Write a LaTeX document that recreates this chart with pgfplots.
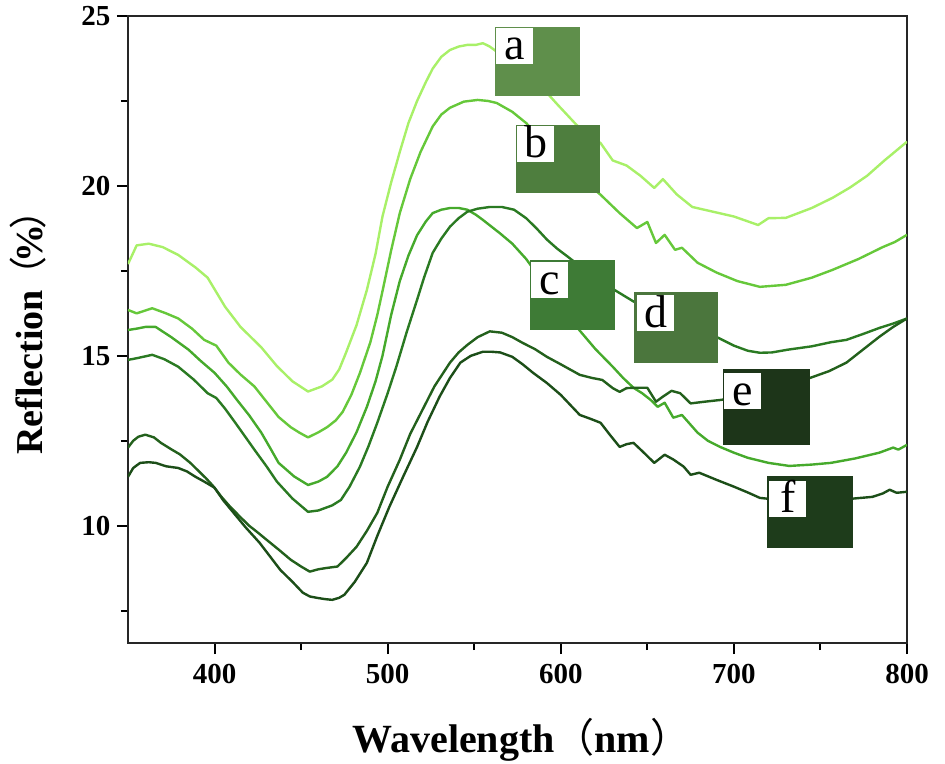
\documentclass[border=0pt]{standalone}
\usepackage{fontspec}
\setmainfont{Liberation Serif}
\newfontfamily\cjk{Noto Sans CJK SC}
\usepackage{pgfplots}
\pgfplotsset{compat=1.18}
\definecolor{ca}{HTML}{A8F068}
\definecolor{cb}{HTML}{66C83A}
\definecolor{cc}{HTML}{46AA2C}
\definecolor{cd}{HTML}{2A7A22}
\definecolor{ce}{HTML}{23601C}
\definecolor{cf}{HTML}{1C4E18}
\definecolor{ba}{HTML}{5F8F4B}
\definecolor{bb}{HTML}{4E7E3E}
\definecolor{bc}{HTML}{3E7B36}
\definecolor{bd}{HTML}{4B763D}
\definecolor{be}{HTML}{1D3519}
\definecolor{bf}{HTML}{1E3C1B}
\tikzset{lbl/.style={fill=white, inner xsep=0pt, inner ysep=0pt, minimum width=37pt,
  text height=32pt, text depth=4pt, font=\fontsize{46}{46}\selectfont, anchor=south west}}
\begin{document}
\begin{tikzpicture}
\useasboundingbox (-128pt,-120pt) rectangle (817pt,643pt);
\begin{axis}[at={(0,0)}, anchor=south west,
  scale only axis, width=779pt, height=627pt,
  xmin=350, xmax=800, ymin=6.55, ymax=25,
  tick pos=left, tick align=outside,
  xtick={400,500,600,700,800}, minor xtick={450,550,650,750},
  ytick={10,15,20,25}, minor ytick={7.5,12.5,17.5,22.5},
  major tick length=11pt, minor tick length=7pt,
  every tick/.style={line width=2pt, black},
  axis line style={line width=2.5pt, black!85},
  tick label style={font=\fontsize{29}{29}\selectfont\bfseries},
  xticklabel style={yshift=-7pt},
  yticklabel style={xshift=-3pt},
  /pgf/number format/assume math mode=true,
  xlabel={Wavelength{\cjk\mdseries（}nm{\cjk\mdseries）}},
  ylabel={Reflection\kern-0.12em{\cjk\mdseries（}\kern-0.15em\%\kern-0.15em{\cjk\mdseries）}},
  xlabel style={font=\fontsize{40}{40}\selectfont\bfseries, at={(axis description cs:0.505,-0.1754)}, anchor=base},
  ylabel style={font=\fontsize{38}{38}\selectfont\bfseries, at={(axis description cs:-0.128,0.51)}, anchor=center},
  every axis plot/.append style={line width=2.4pt, line join=round},
]
\addplot[ca] coordinates {(350,17.7)(355,18.25)(362,18.3)(370,18.2)(379,17.97)(389,17.6)(396,17.3)(406,16.45)(415,15.85)(427,15.25)(436,14.7)(445,14.25)(454,13.95)(462,14.1)(468,14.3)(472,14.6)(476,15.1)(482,15.9)(488,16.94)(493,18.0)(497,19.1)(502,20.1)(507,21.0)(512,21.85)(517,22.5)(522,23.05)(526,23.45)(531,23.8)(536,24.0)(541,24.1)(546,24.15)(551,24.15)(555,24.2)(559,24.1)(563,23.95)(570,23.75)(580,23.35)(590,22.85)(598,22.4)(609,21.8)(616,21.5)(623,21.26)(630,20.75)(638,20.6)(646,20.3)(654,19.94)(659,20.2)(667,19.75)(676,19.38)(688,19.24)(700,19.1)(714,18.85)(720,19.05)(730,19.06)(745,19.35)(757,19.65)(767,19.95)(777,20.3)(787,20.75)(800,21.3)};
\addplot[cb] coordinates {(350,16.35)(355,16.25)(364,16.4)(372,16.25)(379,16.1)(387,15.8)(394,15.47)(401,15.3)(408,14.8)(415,14.45)(423,14.1)(430,13.65)(437,13.2)(444,12.9)(449,12.74)(454,12.6)(460,12.75)(465,12.9)(470,13.1)(474,13.35)(479,13.85)(484,14.5)(490,15.4)(494,16.2)(497,16.9)(502,18.1)(507,19.2)(513,20.2)(519,21.0)(526,21.75)(531,22.1)(536,22.3)(544,22.48)(552,22.53)(558,22.5)(563,22.44)(572,22.18)(580,21.85)(590,21.3)(600,20.8)(611,20.25)(623,19.74)(634,19.2)(644,18.76)(650,18.94)(655,18.32)(660,18.56)(666,18.12)(670,18.18)(679,17.74)(690,17.45)(702,17.2)(715,17.03)(730,17.09)(745,17.3)(757,17.53)(772,17.85)(786,18.2)(793,18.35)(800,18.56)};
\addplot[cc] coordinates {(350,15.76)(355,15.8)(360,15.85)(366,15.85)(375,15.55)(385,15.18)(392,14.85)(400,14.5)(407,14.1)(413,13.7)(420,13.25)(427,12.74)(432,12.3)(437,11.85)(446,11.45)(454,11.2)(460,11.3)(465,11.44)(471,11.75)(476,12.15)(482,12.75)(488,13.5)(493,14.25)(497,15.0)(502,16.2)(507,17.2)(512,17.95)(517,18.55)(522,18.95)(526,19.2)(531,19.3)(536,19.35)(541,19.35)(546,19.3)(551,19.15)(555,19.0)(560,18.8)(565,18.6)(572,18.3)(580,17.85)(590,17.15)(600,16.45)(611,15.74)(620,15.2)(630,14.68)(636,14.35)(642,14.06)(647,13.9)(652,13.7)(656,13.5)(660,13.62)(665,13.18)(670,13.26)(679,12.74)(685,12.5)(692,12.32)(700,12.15)(708,12.0)(720,11.85)(732,11.76)(745,11.8)(756,11.85)(770,11.98)(784,12.15)(792,12.3)(795,12.24)(800,12.38)};
\addplot[cd] coordinates {(350,14.88)(356,14.94)(364,15.03)(371,14.9)(379,14.68)(388,14.3)(396,13.9)(401,13.76)(406,13.45)(412,13.03)(418,12.6)(423,12.24)(430,11.75)(436,11.3)(445,10.8)(454,10.41)(460,10.45)(468,10.6)(473,10.76)(478,11.15)(484,11.74)(489,12.35)(494,13.03)(500,13.9)(505,14.68)(511,15.7)(517,16.65)(521,17.3)(526,18.03)(531,18.45)(536,18.8)(541,19.05)(546,19.24)(552,19.33)(559,19.38)(566,19.38)(573,19.3)(580,19.05)(586,18.75)(592,18.42)(598,18.15)(605,17.88)(612,17.6)(620,17.3)(631,16.94)(642,16.6)(655,16.25)(667,15.95)(680,15.75)(691,15.53)(700,15.3)(708,15.15)(715,15.09)(722,15.1)(731,15.18)(745,15.28)(756,15.4)(765,15.47)(775,15.65)(784,15.82)(792,15.95)(800,16.1)};
\addplot[ce] coordinates {(350,12.3)(353,12.5)(356,12.62)(360,12.68)(365,12.6)(369,12.44)(375,12.25)(380,12.1)(386,11.85)(391,11.6)(395,11.4)(399,11.18)(404,10.85)(409,10.56)(415,10.25)(420,10.0)(425,9.8)(430,9.59)(437,9.3)(444,9.0)(450,8.8)(455,8.65)(460,8.72)(465,8.76)(471,8.8)(476,9.05)(482,9.38)(488,9.85)(494,10.38)(500,11.15)(507,11.94)(513,12.7)(520,13.4)(527,14.1)(536,14.8)(541,15.1)(546,15.32)(552,15.55)(559,15.72)(566,15.68)(572,15.55)(578,15.38)(585,15.2)(592,14.97)(600,14.75)(611,14.44)(618,14.35)(624,14.29)(630,14.05)(634,13.94)(638,14.05)(642,14.06)(650,14.06)(655,13.65)(659,13.8)(664,13.97)(669,13.9)(675,13.6)(683,13.65)(692,13.7)(705,13.8)(718,13.95)(730,14.1)(744,14.35)(755,14.55)(765,14.8)(775,15.2)(784,15.56)(792,15.85)(800,16.1)};
\addplot[cf] coordinates {(350,11.44)(353,11.7)(357,11.85)(362,11.87)(366,11.85)(372,11.75)(379,11.7)(384,11.6)(389,11.44)(394,11.3)(400,11.12)(405,10.75)(411,10.38)(418,9.95)(426,9.5)(432,9.1)(438,8.7)(445,8.35)(451,8.03)(455,7.92)(459,7.88)(464,7.84)(468,7.82)(472,7.88)(475,7.97)(481,8.35)(488,8.91)(494,9.7)(501,10.56)(509,11.45)(517,12.32)(523,13.05)(530,13.8)(536,14.35)(542,14.8)(548,15.0)(555,15.12)(560,15.12)(565,15.1)(572,14.97)(578,14.75)(584,14.5)(592,14.2)(600,13.85)(611,13.26)(617,13.15)(623,13.03)(628,12.7)(634,12.32)(638,12.4)(642,12.44)(648,12.15)(654,11.85)(660,12.09)(665,11.95)(671,11.74)(675,11.5)(680,11.56)(690,11.35)(700,11.15)(708,10.98)(715,10.82)(728,10.75)(740,10.72)(755,10.75)(769,10.8)(780,10.85)(786,10.95)(790,11.06)(794,10.97)(800,11.0)};
% sample swatches with labels
\fill[ba] (axis cs:562.0,22.64) rectangle (axis cs:611.1,24.68);
\node[lbl] at (axis cs:562.6,23.59) {a};
\fill[bb] (axis cs:574.1,19.78) rectangle (axis cs:622.7,21.79);
\node[lbl] at (axis cs:574.7,20.70) {b};
\fill[bc] (axis cs:582.2,15.75) rectangle (axis cs:631.3,17.81);
\node[lbl] at (axis cs:582.8,16.69) {c};
\fill[bd] (axis cs:642.3,14.80) rectangle (axis cs:690.8,16.87);
\node[lbl] at (axis cs:644.0,15.72) {d};
\fill[be] (axis cs:693.7,12.39) rectangle (axis cs:744.0,14.60);
\node[lbl] at (axis cs:694.3,13.42) {e};
\fill[bf] (axis cs:719.1,9.35) rectangle (axis cs:768.8,11.47);
\node[lbl] at (axis cs:720.3,10.26) {f};
\end{axis}
\end{tikzpicture}
\end{document}
